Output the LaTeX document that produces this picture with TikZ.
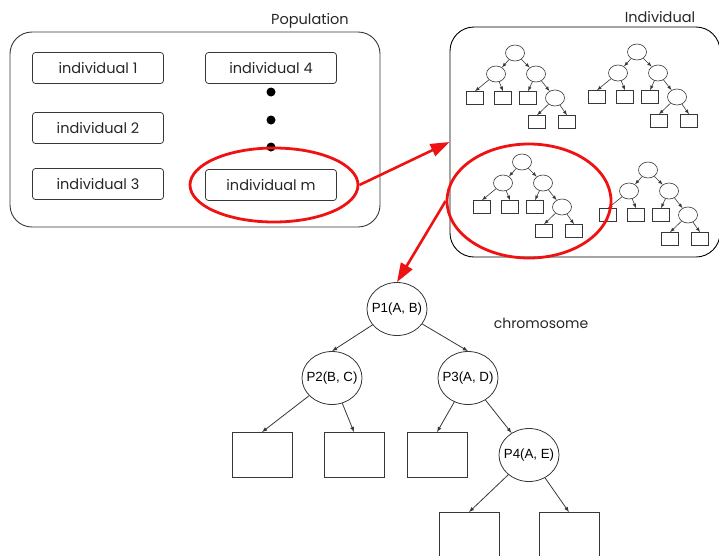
\documentclass[tikz,border=0pt]{standalone}
\usepackage{fontspec}
\setmainfont{Poppins}
\newfontfamily\plabelfont{Liberation Sans}
\usetikzlibrary{arrows,arrows.meta,shapes,positioning}
\definecolor{ringred}{RGB}{238,18,18}
\definecolor{edgegray}{RGB}{55,55,55}

\begin{document}
\begin{tikzpicture}[x=1pt,y=1pt]
        \tikzstyle{ind}=[draw=edgegray,line width=0.8pt,rounded corners=3pt,minimum width=131,minimum height=31,font=\fontsize{14.5}{16}\selectfont,text=black!85]
        \tikzstyle{lbl}=[font=\fontsize{14.5}{16}\selectfont,text=black!85]
        \tikzstyle{dot}=[circle,fill=black,inner sep=0,minimum width=9,minimum height=8]
        \tikzstyle{ring}=[ellipse,draw=ringred,line width=2.8pt]
        \tikzstyle{knot}=[ellipse,draw=edgegray,line width=0.6pt,inner sep=0,minimum width=19,minimum height=16]
        \tikzstyle{leaf}=[draw=edgegray,line width=0.6pt,inner sep=0,minimum width=17,minimum height=13]
        \tikzstyle{pnode}=[ellipse,draw=edgegray,line width=0.8pt,inner xsep=-8pt,inner ysep=0,minimum width=60,minimum height=53,font=\plabelfont\fontsize{13.3}{15}\selectfont]
        \tikzstyle{box}=[draw=edgegray,line width=0.8pt,inner sep=0,minimum width=60,minimum height=45]
        \tikzstyle{tiny}=[-latex,draw=edgegray,line width=0.6pt]
        \tikzstyle{link}=[-latex,draw=edgegray,line width=0.8pt]
        \tikzstyle{redarrow}=[-{Triangle[length=19pt,width=13pt]},draw=ringred,line width=2.6pt]

        \useasboundingbox (0,0) rectangle (719,-555);

        % population
        \node[draw=edgegray,line width=0.9pt,rounded corners=22pt,minimum width=370,minimum height=195] (pop) at (195,-129.5) {};
        \node[lbl] (poplabel) at (310,-21) {Population};

        \begin{scope}[node distance=60]
          \node[ind](i1) at (98,-68) {individual 1};
          \node[ind](i2)[below of=i1]{individual 2};
          \node[ind](i3)[below of=i2,yshift=4]{individual 3};
          \node[ind](i4)[right of=i1,xshift=113]{individual 4};
          \node[ind](im)[right of=i3,xshift=113,yshift=-1]{individual m};
        \end{scope}
        \foreach \y [count=\k] in {92,120,147}
          \node[dot](dot\k) at (271,-\y) {};

        \node[ring,minimum width=168,minimum height=74](ringm) at (274,-185) {};

        % individual
        \node[draw=black,line width=0.9pt,rounded corners=24pt,minimum width=270,minimum height=230] (indiv) at (585,-142) {};
        \node[lbl] (indivlabel) at (660,-17) {Individual};

        \foreach \rx/\ry [count=\t] in {515/53,637/52,522/162,648/170}{
          \begin{scope}[shift={(\rx,-\ry)}]
            \node[knot](r\t) at (0,0) {};
            \node[knot](a\t) at (-19,-21) {};
            \node[knot](b\t) at (21,-21) {};
            \node[leaf](la\t) at (-40,-45) {};
            \node[leaf](lb\t) at (-12,-45) {};
            \node[leaf](lc\t) at (13,-45) {};
            \node[knot](c\t) at (40,-45) {};
            \node[leaf](ld\t) at (22,-69) {};
            \node[leaf](le\t) at (52,-69) {};
            \draw[tiny] (r\t) -- (a\t);
            \draw[tiny] (r\t) -- (b\t);
            \draw[tiny] (a\t) -- (la\t.north);
            \draw[tiny] (a\t) -- (lb\t.north);
            \draw[tiny] (b\t) -- (lc\t.north);
            \draw[tiny] (b\t) -- (c\t);
            \draw[tiny] (c\t) -- (ld\t.north);
            \draw[tiny] (c\t) -- (le\t.north);
          \end{scope}
        }

        \node[ring,minimum width=164,minimum height=114](ringc) at (529,-201) {};

        % chromosome
        \begin{scope}[node distance=69]
          \node[pnode](p1) at (397,-309) {P1(A, B)};
          \node[pnode](p2)[below of=p1,xshift=-65]{P2(B, C)};
          \node[pnode](p3)[below of=p1,xshift=71]{P3(A, D)};
          \node[pnode](p4)[below of=p3,xshift=61,yshift=-8]{P4(A, E)};
          \node[box](l1)[below of=p2,xshift=-70,yshift=-8]{};
          \node[box](l2)[below of=p2,xshift=22,yshift=-8]{};
          \node[box](l3)[below of=p3,xshift=-31,yshift=-8]{};
          \node[box](l4)[below of=p4,xshift=-60,yshift=-11]{};
          \node[box](l5)[below of=p4,xshift=40,yshift=-11]{};
        \end{scope}
        \node[lbl,font=\fontsize{14}{16}\selectfont] (chromlabel) at (541,-323) {chromosome};

        \draw[link] (p1) -- (p2.north);
        \draw[link] (p1) -- (p3.north);
        \draw[link] (p2) -- (l1.north);
        \draw[link] (p2) -- (l2.north);
        \draw[link] (p3) -- (l3.north);
        \draw[link] (p3) -- (p4);
        \draw[link] (p4) -- (l4.north);
        \draw[link] (p4) -- (l5.north);

        \draw[redarrow] (ringm.east) -- (indiv.west);
        \draw[redarrow] (ringc.west) -- (p1.north);
\end{tikzpicture}
\end{document}
